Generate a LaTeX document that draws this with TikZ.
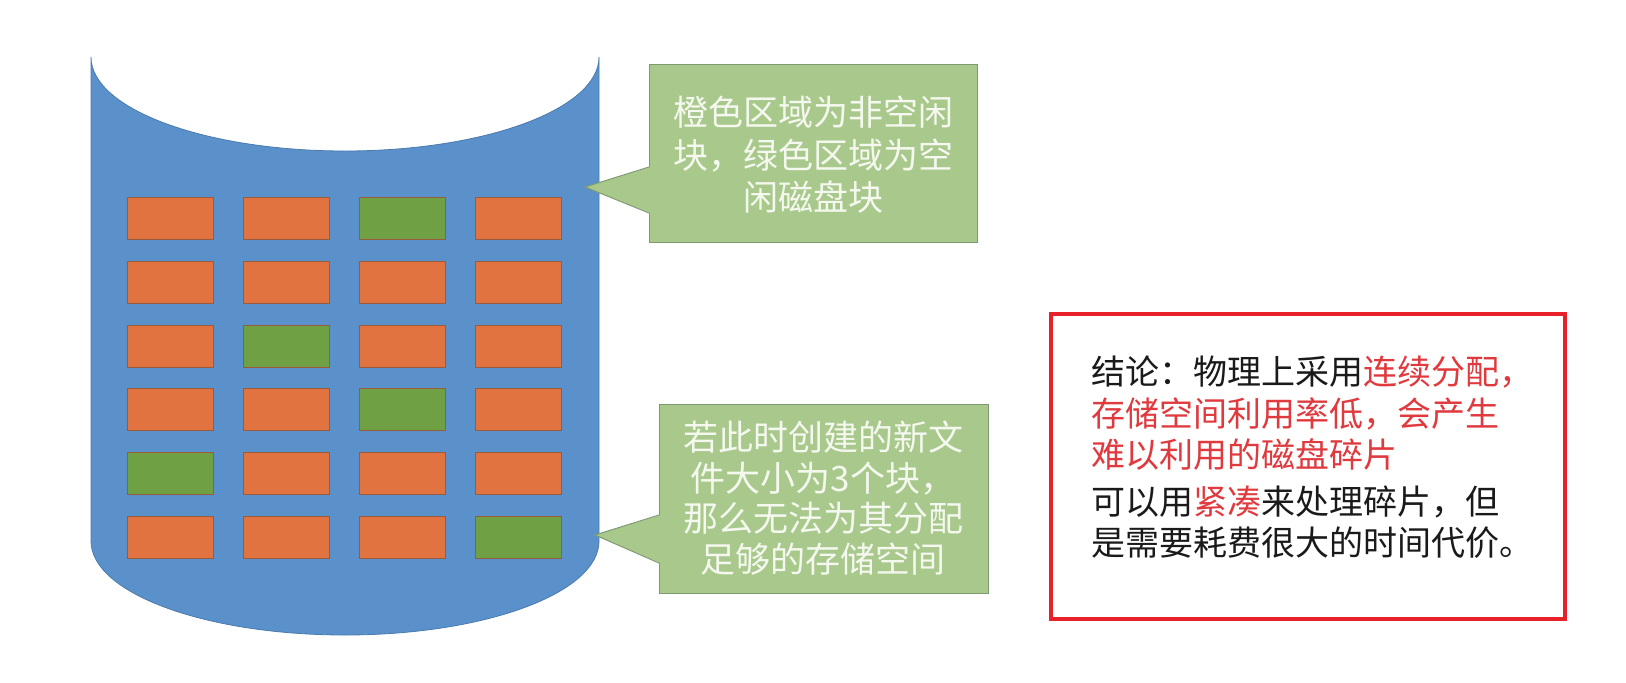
\documentclass[tikz,border=0pt]{standalone}
\usepackage{fontspec}
\newfontfamily\cjk{Noto Sans CJK SC}
\definecolor{cylblue}{HTML}{5A91CA}
\definecolor{cylline}{HTML}{4A7AAE}
\definecolor{blkorange}{HTML}{E0733F}
\definecolor{blkgreen}{HTML}{70A044}
\definecolor{blkline}{HTML}{9A5A3C}
\definecolor{callfill}{HTML}{A8C88C}
\definecolor{callline}{HTML}{7E9A70}
\definecolor{calltext}{HTML}{F4F8EE}
\definecolor{boxred}{HTML}{E8202A}
\definecolor{txtred}{HTML}{E0393E}
\definecolor{txtdark}{HTML}{1A1A1A}
\tikzset{
  blk/.style={draw=blkline, line width=0.9pt, minimum width=86pt, minimum height=42pt, inner sep=0pt, anchor=north west},
  callbox/.style={fill=callfill, draw=callline, line width=1pt, inner sep=0pt, anchor=north west},
  calltxt/.style={text=calltext, align=center, inner sep=0pt, font=\cjk\fontsize{35}{42.5}\selectfont},
}
\begin{document}
\begin{tikzpicture}[x=1pt,y=-1pt]
\useasboundingbox (0,0) rectangle (1626,683);
\fill[white] (0,0) rectangle (1626,683);
% cylinder body
\filldraw[fill=cylblue, draw=cylline, line width=0.8pt]
  (91,57) -- (91,541) arc[start angle=180, end angle=360, x radius=254pt, y radius=94pt]
  -- (599,57) arc[start angle=0, end angle=-180, x radius=254pt, y radius=94pt] -- cycle;
% blocks
\foreach \r/\cols in {1/{blkorange,blkorange,blkgreen,blkorange},
                      2/{blkorange,blkorange,blkorange,blkorange},
                      3/{blkorange,blkgreen,blkorange,blkorange},
                      4/{blkorange,blkorange,blkgreen,blkorange},
                      5/{blkgreen,blkorange,blkorange,blkorange},
                      6/{blkorange,blkorange,blkorange,blkgreen}}{
  \foreach \c [count=\i] in \cols {
    \pgfmathsetmacro{\bx}{127+116*(\i-1)}
    \pgfmathsetmacro{\by}{197+63.8*(\r-1)}
    \node[blk, fill=\c] (b-\r-\i) at (\bx,\by) {};
  }
}
% callout 1
\node[callbox, minimum width=328pt, minimum height=178pt] (c1) at (649,64) {};
\coordinate (t1) at (585,187);
\fill[callfill] (650.5,167) -- (t1) -- (650.5,213) -- cycle;
\draw[callline, line width=1pt] (c1.west |- 0,167) -- (t1) -- (c1.west |- 0,213);
\node[calltxt, anchor=north] (c1t) at (813,96) {橙色区域为非空闲\\块，绿色区域为空\\闲磁盘块};
% callout 2
\node[callbox, minimum width=329pt, minimum height=189pt] (c2) at (659,404) {};
\coordinate (t2) at (595,535);
\fill[callfill] (660.5,515) -- (t2) -- (660.5,563) -- cycle;
\draw[callline, line width=1pt] (c2.west |- 0,515) -- (t2) -- (c2.west |- 0,563);
\node[calltxt, anchor=north, font=\cjk\fontsize{35}{40.5}\selectfont] (c2t) at (823,421) {若此时创建的新文\\件大小为3个块，\\那么无法为其分配\\足够的存储空间};
% conclusion box
\node[draw=boxred, line width=4pt, minimum width=514pt, minimum height=305pt, inner sep=0pt, anchor=north west] (r) at (1049,312) {};
\node[anchor=north west, align=left, inner sep=0pt, text=txtdark, font=\cjk\fontsize{34}{41.5}\selectfont] (rt) at (1091,356)
  {结论：物理上采用\textcolor{txtred}{连续分配，}\\
   \textcolor{txtred}{存储空间利用率低，会产生}\\
   \textcolor{txtred}{难以利用的磁盘碎片}\\[5pt]
   可以用\textcolor{txtred}{紧凑}来处理碎片，但\\
   是需要耗费很大的时间代价。};
\end{tikzpicture}
\end{document}
